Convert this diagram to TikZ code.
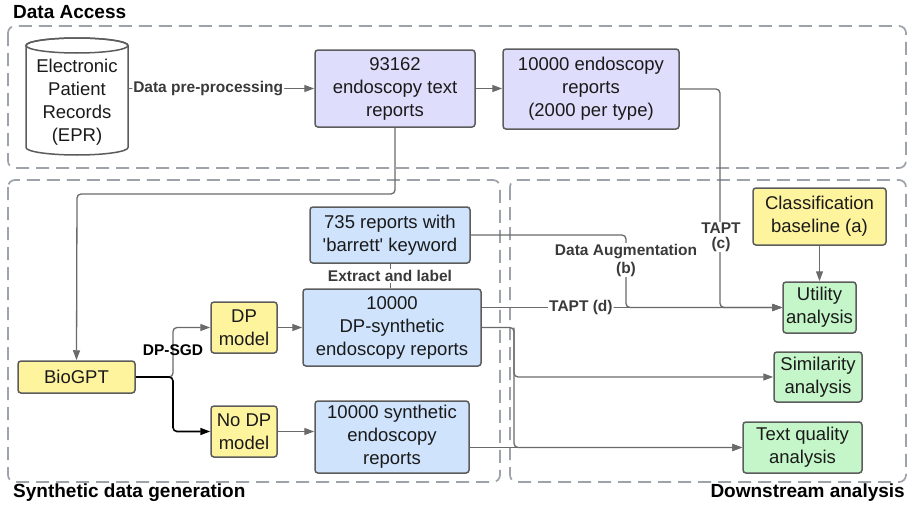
\documentclass[tikz,border=0pt]{standalone}
\usepackage{fontspec}
\setmainfont{Liberation Sans}
\usetikzlibrary{arrows.meta,calc}
\definecolor{lav}{HTML}{DEDEFC}
\definecolor{lblue}{HTML}{CFE3FD}
\definecolor{lyel}{HTML}{FFF49E}
\definecolor{lgreen}{HTML}{C5F6C9}
\definecolor{bord}{HTML}{5C5C5C}
\definecolor{conncol}{HTML}{6A6A6A}
\definecolor{framecol}{HTML}{9EA3AB}
\definecolor{labcol}{HTML}{3A3A3A}
\definecolor{txt}{HTML}{1A1A1A}
\tikzset{
  box/.style={draw=bord, line width=1.5pt, rounded corners=3pt, inner sep=0pt, align=center,
    text=txt, font=\fontsize{18.5}{23}\selectfont},
  lavbox/.style={box, fill=lav},
  bluebox/.style={box, fill=lblue},
  yelbox/.style={box, fill=lyel},
  grnbox/.style={box, fill=lgreen},
  conn/.style={draw=conncol, line width=1.3pt, rounded corners=4pt,
    -{Triangle[length=10pt,width=7pt]}},
  plainconn/.style={draw=conncol, line width=1.3pt, rounded corners=4pt},
  frame/.style={draw=framecol, line width=1.7pt, dash pattern=on 13pt off 7pt, rounded corners=7pt},
  lab/.style={font=\bfseries\fontsize{15.5}{17}\selectfont, text=labcol, fill=white, inner sep=1pt, align=center},
  title/.style={font=\bfseries\fontsize{19}{22}\selectfont, text=black, inner sep=0pt},
}
\begin{document}
\begin{tikzpicture}[x=1pt,y=-1pt]
\useasboundingbox (0,0) rectangle (908,506);
% frames
\draw[frame] (8,26) rectangle (906,168);
\draw[frame] (8,180) rectangle (500,482);
\draw[frame] (510,180) rectangle (906,482);
\node[title, anchor=west] (tda) at (13,12) {Data Access};
\node[title, anchor=west] (tsd) at (13,493) {Synthetic data generation};
\node[title, anchor=east] (tdsa) at (905,493) {Downstream analysis};

% cylinder
\node[minimum width=102pt, minimum height=117pt, inner sep=0pt] (epr) at (77,96.5) {};
\filldraw[fill=white, draw=bord, line width=1.5pt] (26,45.5) -- (26,147.5)
  arc[start angle=180, end angle=360, x radius=51pt, y radius=7.5pt] -- (128,45.5)
  arc[start angle=0, end angle=180, x radius=51pt, y radius=7.5pt] -- cycle;
\draw[draw=bord, line width=1.5pt] (77,45.5) ellipse [x radius=51pt, y radius=7.5pt];
\node[align=center, text=txt, font=\fontsize{18.5}{23}\selectfont, inner sep=0pt] (eprtext) at (77,102.5)
  {Electronic\\Patient\\Records\\(EPR)};

% boxes
\node[lavbox, minimum width=160pt, minimum height=77pt] (b1) at (395,88.5) {93162\\endoscopy text\\reports};
\node[lavbox, minimum width=176pt, minimum height=80pt] (b2) at (591,89) {10000 endoscopy\\reports\\(2000 per type)};
\node[yelbox, minimum width=117pt, minimum height=32pt] (bio) at (76.5,377) {BioGPT};
\node[yelbox, minimum width=66pt, minimum height=51pt] (dp) at (244,327.5) {DP\\model};
\node[yelbox, minimum width=66pt, minimum height=51pt] (nodp) at (244,431.5) {No DP\\model};
\node[bluebox, minimum width=178pt, minimum height=77pt] (dps) at (392,327.5) {10000\\DP-synthetic\\endoscopy reports};
\node[bluebox, minimum width=160pt, minimum height=56pt] (b735) at (390,235) {735 reports with\\\textquotesingle barrett\textquotesingle{} keyword};
\node[bluebox, minimum width=154pt, minimum height=72pt] (syn) at (392,437) {10000 synthetic\\endoscopy\\reports};
\node[yelbox, minimum width=133pt, minimum height=57pt] (cls) at (819.5,216.5) {Classification\\baseline (a)};
\node[grnbox, minimum width=73pt, minimum height=51pt] (util) at (819.5,307.5) {Utility\\analysis};
\node[grnbox, minimum width=88pt, minimum height=50pt] (sim) at (818,377) {Similarity\\analysis};
\node[grnbox, minimum width=119pt, minimum height=51pt] (tq) at (802.5,447.5) {Text quality\\analysis};

% coordinates
\coordinate (c1) at (395,194);
\coordinate (c2) at (77,194);
\coordinate (sp) at (173,377);
\coordinate (tc) at (720,307.5);
\coordinate (tb) at (626,307.5);
\coordinate (sd) at (514,327.5);

% connectors
\draw[conn] (epr.east |- b1.west) -- node[lab, pos=0.43] {Data pre-processing} (b1.west);
\draw[conn] (b1.east) -- (b2.west |- b1.east);
\draw[conn] (b2.east) -| (tc) -- (util.west);
\draw[conn] (b1.south) -- (c1) -- (c2) -- (bio.north);
\draw[conn] (bio.east) -- (sp) |- (dp.west);
\draw[draw=black, line width=1.6pt, rounded corners=4pt, -{Triangle[length=10pt,width=7pt]}] (bio.east) -- (sp) |- (nodp.west);
\node[lab, fill=none, text=black] (dpsgd) at (173,350) {DP-SGD};
\draw[conn] (dp.east) -- (dps.west |- dp.east);
\draw[conn] (nodp.east) -- (syn.west |- nodp.east);
\draw[draw=conncol, line width=0.8pt] (b735.south) -- node[lab, pos=0.5] {Extract and label} (dps.north -| b735.south);
\draw[conn] (b735.east) -| (tb) -- (util.west);
\draw[conn] (dps.east |- util.west) -- node[lab, pos=0.33] {TAPT (d)} (util.west);
\draw[conn] (dps.east) -- (sd) |- (tq.west);
\draw[conn] (sd) |- (sim.west);
\draw[conn] (syn.east |- tq.west) -- (tq.west);
\draw[conn] (cls.south) -- (util.north);
\node[lab, font=\bfseries\fontsize{15.5}{15}\selectfont] (taptc) at (721,237) {TAPT\\(c)};
\node[lab, font=\bfseries\fontsize{15.5}{18}\selectfont] (dab) at (626,260) {Data Augmentation\\(b)};
\end{tikzpicture}
\end{document}
